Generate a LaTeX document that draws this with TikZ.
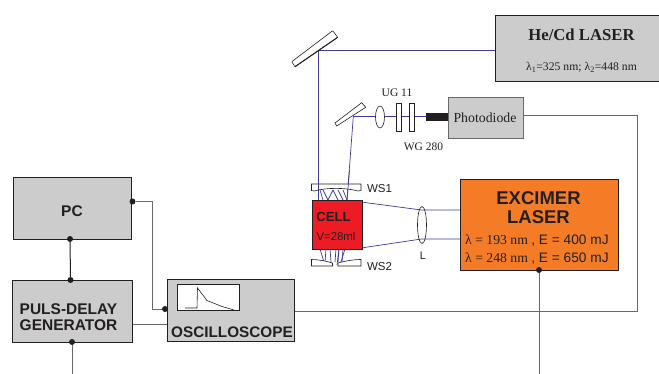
\documentclass[tikz,border=0pt]{standalone}
\usepackage{fontspec}
\usetikzlibrary{shapes.geometric}
\setmainfont{Liberation Serif}
\setsansfont{Liberation Sans}
\definecolor{boxgray}{RGB}{204,204,204}
\definecolor{beam}{RGB}{60,60,160}
\definecolor{wire}{RGB}{105,105,105}
\definecolor{cellred}{RGB}{237,28,36}
\definecolor{exorange}{RGB}{245,124,38}
\definecolor{ink}{RGB}{35,31,32}
\tikzset{
 graybox/.style={draw=ink,line width=1.2pt,fill=boxgray,inner sep=0pt},
 thinbox/.style={draw=wire,line width=0.8pt,fill=boxgray,inner sep=0pt},
 ray/.style={draw=beam,line width=0.7pt},
 wireline/.style={draw=wire,line width=1pt},
 jdot/.style={circle,fill=ink,inner sep=0pt,minimum size=6pt},
 optic/.style={draw=ink,line width=0.6pt,fill=white},
 sanslabel/.style={font=\sffamily\bfseries,text=ink,align=center,inner sep=0pt},
 seriflabel/.style={font=\rmfamily,text=ink,inner sep=0pt}
}
\begin{document}
\begin{tikzpicture}[x=1pt,y=-1pt]
\useasboundingbox (0,0) rectangle (659,374);
% coordinates
\coordinate (m1hit) at (318,50.7);
\coordinate (m2hit) at (353.3,116.7);
\coordinate (m2b) at (347,200);
\coordinate (m1b) at (318,200);
\coordinate (lensTop) at (421.5,210);
\coordinate (lensBot) at (421.5,239);
\coordinate (wireCorner1) at (637,116);
\coordinate (wireCorner2) at (637,311);
\coordinate (pcCorner1) at (152,201.5);
\coordinate (pcCorner2) at (152,309);
\coordinate (pdBottom) at (72,374);
\coordinate (exBottom) at (539,374);
% beams
\begin{scope}
\clip (0,0) rectangle (659,374);
\node[graybox,line width=0.9pt,minimum width=170pt,minimum height=66pt,anchor=north west] (hecd) at (495,15) {};
\end{scope}
\draw[ray] (hecd.west |- m1hit) -- (m1hit) -- (m1b);
\draw[ray] (m2hit) -- (426,116.7);
\draw[ray] (m2hit) -- (m2b);
% top mirror
\draw[optic,rounded corners=0.6pt] (291.7,61.7) -- (295,66.7) -- (337.7,37.3) -- (332.7,30.7) -- cycle;
\draw[ink,line width=1pt] (295,66.7) -- (337.7,37.3);
% small mirror
\draw[optic] (335,123) -- (361.7,102.7) -- (365.7,107.3) -- (336.7,126) -- cycle;
% lens and filters
\node[optic,ellipse,minimum width=9pt,minimum height=22pt,inner sep=0pt] (lens1) at (380,117) {};
\node[optic,minimum width=4.5pt,minimum height=28.5pt,inner sep=0pt] (ug) at (399,117.3) {};
\node[optic,minimum width=4.5pt,minimum height=28.5pt,inner sep=0pt] (wg) at (412,117.3) {};
\fill[ink] (426,113) rectangle (448,121);
\node[seriflabel,font=\rmfamily\fontsize{11.5}{13}\selectfont] (uglbl) at (397,93) {UG 11};
\node[seriflabel,font=\rmfamily\fontsize{11.5}{13}\selectfont] (wglbl) at (423.5,146.5) {WG 280};
% photodiode
\node[thinbox,minimum width=75pt,minimum height=41pt,anchor=north west,font=\rmfamily\fontsize{13.8}{15}\selectfont,text=ink] (pd) at (448,97) {};
\node[seriflabel,font=\rmfamily\fontsize{13.8}{15}\selectfont] (pdt) at (485,118) {Photodiode};
% He/Cd text
\node[seriflabel,font=\rmfamily\bfseries\fontsize{16.7}{18}\selectfont] (hecdt) at (581.5,34.5) {He/Cd LASER};
\node[seriflabel,font=\rmfamily\fontsize{11.7}{13}\selectfont] (hecdw) at (581.5,67) {λ\textsubscript{1}=325 nm; λ\textsubscript{2}=448 nm};
% cell optics
\draw[ray] (361,202) -- (lensTop) -- (460,210);
\draw[ray] (361,248) -- (lensBot) -- (460,239);
\foreach \a/\b in {320/323,323/328,333/328,333/338,338/343,343/347}{\draw[ray] (\a,190) -- (\b,200);}
\foreach \a/\b in {320/324,326/325,330/331,336/335,339/338,343/342}{\draw[ray] (\a,249) -- (\b,262);}
\foreach \a/\b in {339/337,345/340}{\draw[ray] (\a,249) -- (\b,265);}
\draw[ink,line width=0.6pt,fill=white] (311.5,184) -- (361,184) -- (361,190.5) -- (358,191) .. controls (345,187.5) and (327,187.5) .. (314,191) -- (311.5,190.5) -- cycle;
\draw[ink,line width=0.6pt,fill=white] (311.5,259.5) .. controls (318,259.5) and (326,261) .. (332.5,263) -- (332.5,266) -- (311.5,266) -- cycle;
\draw[ink,line width=0.6pt,fill=white] (361,259.5) .. controls (354,259.5) and (345,261) .. (338,263) -- (338,266) -- (361,266) -- cycle;
\draw[ray] (318,170) -- (m1b);
\draw[ray] (349.5,170) -- (m2b);
\node[draw=ink,line width=1.1pt,fill=cellred,minimum width=49.5pt,minimum height=49pt,anchor=north west,inner sep=0pt] (cell) at (312,200) {};
\node[sanslabel,font=\sffamily\bfseries\fontsize{13.2}{15}\selectfont] (cellt) at (333.5,216.5) {CELL};
\node[sanslabel,font=\sffamily\fontsize{11.4}{13}\selectfont,text=ink] (cellv) at (336,236.5) {V=28ml};
\node[optic,ellipse,minimum width=9pt,minimum height=37pt,inner sep=0pt,fill=none] (lensL) at (422,225) {};
\node[font=\sffamily\fontsize{11}{13}\selectfont,text=ink,inner sep=0pt] (L) at (423,256) {L};
\node[font=\sffamily\fontsize{11.5}{13}\selectfont,text=ink,inner sep=0pt] (ws1) at (379.5,189) {WS1};
\node[font=\sffamily\fontsize{11.5}{13}\selectfont,text=ink,inner sep=0pt] (ws2) at (379.5,267) {WS2};
% excimer
\draw[wireline] (pd.east |- wireCorner1) -- (wireCorner1) -- (wireCorner2) -- (294,311);
\node[draw=ink,line width=1.2pt,fill=exorange,minimum width=158pt,minimum height=91pt,anchor=north west,inner sep=0pt] (ex) at (460,179) {};
\node[sanslabel,font=\sffamily\bfseries\fontsize{18.5}{20}\selectfont] (ext) at (538.5,207.5) {EXCIMER\\[-0.5pt]LASER};
\node[anchor=west,text=ink,inner sep=0pt,font=\fontsize{13.7}{15}\selectfont] (ex1) at (465,241) {λ = 193 nm {\sffamily , E = 400 mJ}};
\node[anchor=west,text=ink,inner sep=0pt,font=\fontsize{13.7}{15}\selectfont] (ex2) at (465,258.5) {λ = 248 nm {\sffamily , E = 650 mJ}};
% electronics
\node[graybox,minimum width=118pt,minimum height=62pt,anchor=north west] (pc) at (13,177) {};
\node[sanslabel,font=\sffamily\bfseries\fontsize{15.5}{17}\selectfont] (pct) at (72,211) {PC};
\node[graybox,minimum width=120pt,minimum height=62pt,anchor=north west] (puls) at (12,280) {};
\node[sanslabel,font=\sffamily\bfseries\fontsize{15.5}{16.5}\selectfont] (pult) at (68.5,317) {PULS-DELAY\\GENERATOR};
\node[graybox,minimum width=127.5pt,minimum height=62pt,anchor=north west] (osc) at (166.5,279) {};
\node[draw=ink,line width=0.7pt,fill=white,minimum width=62pt,minimum height=25pt,anchor=north west,inner sep=0pt] (screen) at (177,284.5) {};
\draw[ink,line width=0.6pt] (185,308) -- (197,308) -- (197.5,288) -- (207,300.5) -- (222,306.5) -- (234,310);
\node[sanslabel,font=\sffamily\bfseries\fontsize{15.3}{17}\selectfont] (osct) at (232,332) {OSCILLOSCOPE};
% wires and dots
\node[jdot] (d1) at (70,239) {};
\node[jdot] (d2) at (70.5,280) {};
\node[jdot] (d3) at (72,342) {};
\node[jdot] (d4) at (132.5,201.5) {};
\node[jdot] (d5) at (165,309) {};
\node[jdot] (d6) at (539,270) {};
\draw[wireline,draw=ink] (d1) -- (d2);
\draw[wireline] (d3) -- (pdBottom);
\draw[wireline] (d4) -- (pcCorner1) -- (pcCorner2) -- (d5);
\draw[wireline] (puls.east |- 0,324.5) -- (osc.west |- 0,324.5);
\draw[wireline] (d6) -- (exBottom);
\end{tikzpicture}
\end{document}
